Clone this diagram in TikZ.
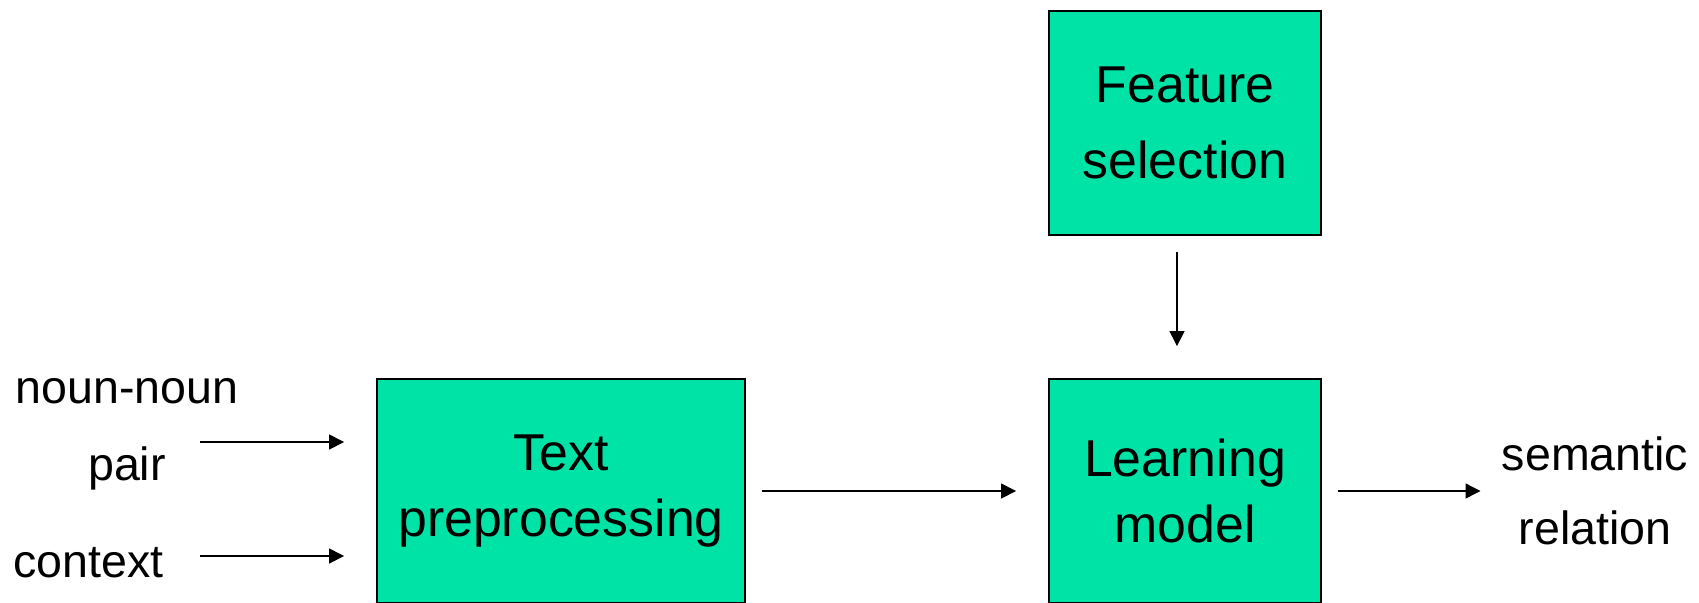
\documentclass[tikz,border=0pt]{standalone}
\usepackage{fontspec}
\setmainfont{Liberation Sans}
\usepackage{tikz}
\usetikzlibrary{arrows.meta}
\definecolor{boxgreen}{RGB}{0,227,167}

\begin{document}
\begin{tikzpicture}[x=0.02cm, y=-0.02cm,
        block/.style = {draw, line width=1.1pt, fill=boxgreen, inner sep=0pt,
            minimum height=4.48cm, align=center, font=\fontsize{29.5}{37.5}\selectfont},
        txt/.style = {inner sep=0pt, align=center, font=\fontsize{26.5}{44}\selectfont},
        flow/.style = {-{Triangle[length=0.3cm, width=0.3cm]}, line width=0.75pt,
            shorten <=0.32cm, shorten >=0.64cm}]
        \useasboundingbox (0,0) rectangle (1699,602);
        \node[block, minimum width=7.36cm] (prep) at (561,491) {Text\\preprocessing};
        \node[block, minimum width=5.44cm] (learn) at (1185,491) {Learning\\model};
        \node[block, minimum width=5.44cm, font=\fontsize{29.5}{43.5}\selectfont] (feat) at (1185,123) {Feature\\selection};
        \node[txt] (pair) at (127,434) {noun-noun\\pair};
        \node[txt, anchor=west] (ctx) at (13,563) {context};
        \node[txt, font=\fontsize{26.5}{42.5}\selectfont] (rel) at (1595,491) {semantic\\relation};
        \coordinate (in1) at (200,442);
        \coordinate (in2) at (200,556);
        \draw[flow, shorten <=0pt] (in1) -- (in1 -| prep.west);
        \draw[flow, shorten <=0pt] (in2) -- (in2 -| prep.west);
        \draw[flow] (prep) -- (learn);
        \draw[flow] ([xshift=-0.16cm]feat.south) -- ([xshift=-0.16cm]learn.north);
        \draw[flow, shorten >=0.42cm] (learn) -- (rel);
\end{tikzpicture}
\end{document}
